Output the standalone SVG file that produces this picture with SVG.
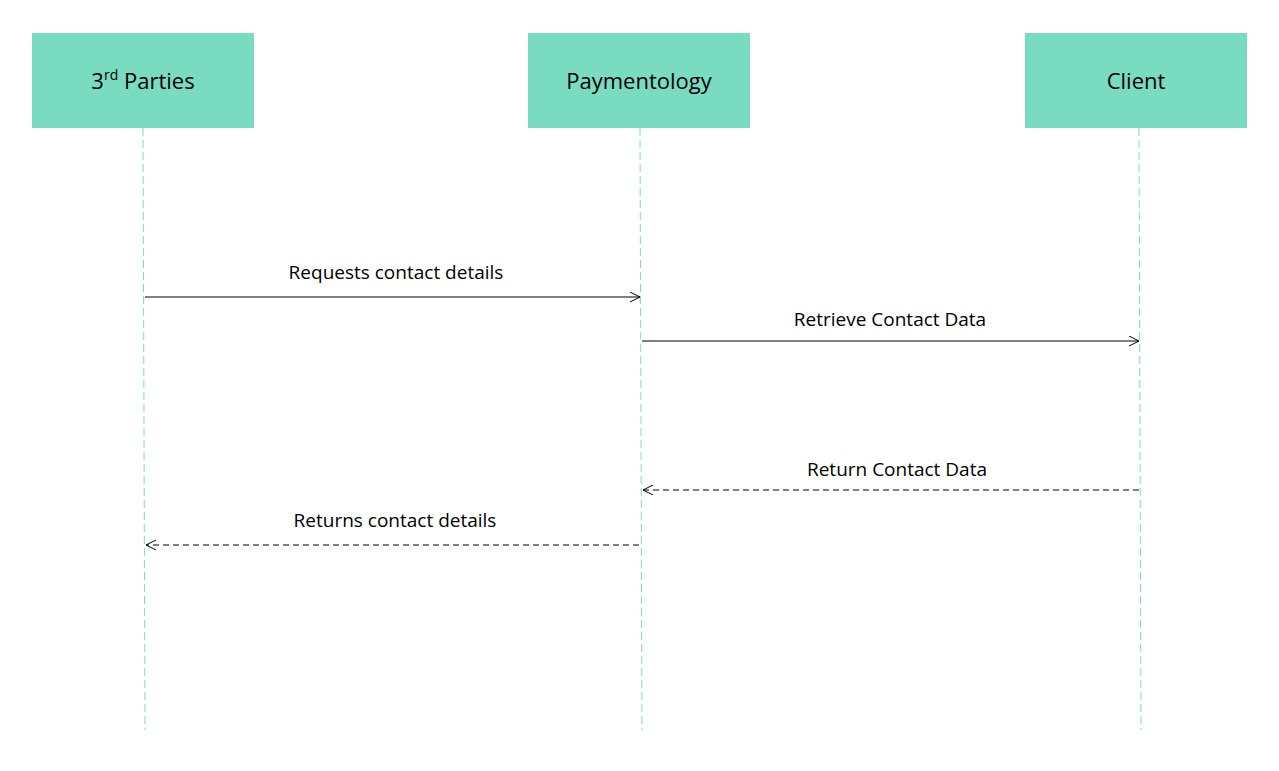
<svg xmlns="http://www.w3.org/2000/svg" width="1279" height="771" viewBox="0 0 1279 771">
<style>
.box{fill:#79DCC0}
.t{font-family:"Open Sans","Liberation Sans",sans-serif;fill:#000}
.h{font-size:22px}
.m{font-size:19px}
.life{stroke:#7FDCC3;stroke-width:1;stroke-dasharray:8,4;fill:none}
.msg{stroke:#000;stroke-width:1;fill:none}
.dash{stroke-dasharray:6,4}
</style>
<defs>
<marker id="a" markerWidth="12" markerHeight="12" refX="10" refY="5" orient="auto" markerUnits="userSpaceOnUse">
<path d="M0,0 L10,5 L0,10" fill="none" stroke="#000" stroke-width="1"/>
</marker>
</defs>
<rect width="1279" height="771" fill="#fff"/>
<g id="lifelines">
<line class="life" x1="143" y1="128" x2="145" y2="730"/>
<line class="life" x1="640" y1="128" x2="642" y2="730"/>
<line class="life" x1="1139" y1="128" x2="1141" y2="730"/>
</g>
<g id="n1"><rect class="box" x="32" y="33" width="222" height="95"/>
<text class="t h" x="143" y="89" text-anchor="middle">3<tspan font-size="14" dy="-9">rd</tspan><tspan dy="9"> Parties</tspan></text></g>
<g id="n2"><rect class="box" x="528" y="33" width="222" height="95"/>
<text class="t h" x="639" y="89" text-anchor="middle">Paymentology</text></g>
<g id="n3"><rect class="box" x="1025" y="33" width="222" height="95"/>
<text class="t h" x="1136" y="89" text-anchor="middle">Client</text></g>
<g id="connectors">
<line class="msg" x1="145" y1="297" x2="640" y2="297" marker-end="url(#a)"/>
<line class="msg" x1="642" y1="341" x2="1139" y2="341" marker-end="url(#a)"/>
<line class="msg dash" x1="1139" y1="490" x2="643" y2="490" marker-end="url(#a)"/>
<line class="msg dash" x1="639" y1="545" x2="146" y2="545" marker-end="url(#a)"/>
<text class="t m" x="396" y="279" text-anchor="middle">Requests contact details</text>
<text class="t m" x="890" y="326" text-anchor="middle">Retrieve Contact Data</text>
<text class="t m" x="897" y="476" text-anchor="middle">Return Contact Data</text>
<text class="t m" x="395" y="527" text-anchor="middle">Returns contact details</text>
</g>
</svg>
